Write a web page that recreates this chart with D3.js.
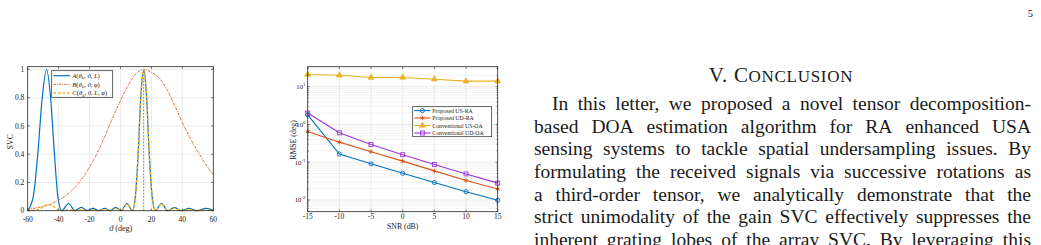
<!DOCTYPE html>
<html><head><meta charset="utf-8">
<script src="https://cdn.jsdelivr.net/npm/d3@7"></script>
<style>
body{margin:0;background:#fff}
svg{display:block}
text{font-family:"Liberation Serif","Times New Roman",serif;fill:#1a1a1a}
</style>
</head><body>
<svg id="c" width="1041" height="245"></svg>
<script>
// ---------------- data: left chart (SVC vs angle) ----------------
const svcXTicks = [-60,-40,-20,0,20,40,60];
const svcYTicks = [0,0.2,0.4,0.6,0.8,1];
const svcYTickLabels = ["0","0.2","0.4","0.6","0.8","1"];
const svcADeg = [-60,-56.4,-53.5,-50.6,-47.8,-45.2,-42.7,-40.5,-38,-33.6,-29.4,-25.4,-21.5,-17.7,-13.9,-10.3,-6.7,-3.1,0.5,4.1,7.7,9.6,11.4,13.1,15,16.9,18.6,20.5,22.6,26.5,30.6,34.9,39.3,44.2,49.4,55.3,60];
const svcAVal = [0,0.1,0.4,0.8,1,0.8,0.4,0.1,0,0.051,0,0.023,0,0.016,0,0.016,0,0.023,0,0.051,0,0.1,0.4,0.8,1,0.8,0.4,0.1,0,0.051,0,0.023,0,0.016,0,0.016,0.003];
const svcBDeg = [-60,-55,-50,-45,-40,-35,-30,-25,-20,-15,-10,-5,0,5,10,15,20,25,30,35,40,45,50,55,60];
const svcBVal = [0.012,0.019,0.03,0.048,0.075,0.11,0.16,0.225,0.31,0.41,0.53,0.66,0.78,0.89,0.97,1.0,0.98,0.94,0.86,0.745,0.625,0.515,0.42,0.33,0.255];
const svcCDeg = [-60,-56.4,-53.5,-50.6,-47.8,-45.2,-42.7,-40.5,-38,-33.6,-29.4,-25.4,-21.5,-17.7,-13.9,-10.3,-6.7,-3.1,0.5,4.1,7.7,9.6,11.4,13.1,15,16.9,18.6,20.5,22.6,26.5,30.6,34.9,39.3,44.2,49.4,55.3,60];
const svcCVal = [0,0.002,0.008,0.022,0.04,0.04,0.026,0.008,0,0.005,0,0.005,0,0.006,0,0.009,0,0.016,0,0.046,0,0.097,0.39,0.79,1,0.8,0.39,0.098,0,0.047,0,0.018,0,0.009,0,0.006,0.001];
const svcMarkerDeg = 15;
const svcLegend = ["A","B","C"];

// ---------------- data: right chart (RMSE vs SNR) ----------------
const snr = [-15,-10,-5,0,5,10,15];
const rmseUSRA = [1.8,0.165,0.091,0.051,0.029,0.0166,0.0098];
const rmseUDRA = [0.65,0.34,0.19,0.107,0.059,0.033,0.0195];
const rmseUSOA = [21,20,17.5,17.5,15.8,14,14];
const rmseUDOA = [2.0,0.6,0.295,0.158,0.087,0.049,0.028];
const rmseNames = ["Proposed US-RA","Proposed UD-RA","Conventional US-OA","Conventional UD-OA"];
const snrTicks = [-15,-10,-5,0,5,10,15];
const rmseDecades = [-2,-1,0,1];

// ---------------- text ----------------
const headingMain = "V. C";
const headingSmall = "ONCLUSION";
const paraLines = [
 "In this letter, we proposed a novel tensor decomposition-",
 "based DOA estimation algorithm for RA enhanced USA",
 "sensing systems to tackle spatial undersampling issues. By",
 "formulating the received signals via successive rotations as",
 "a third-order tensor, we analytically demonstrate that the",
 "strict unimodality of the gain SVC effectively suppresses the",
 "inherent grating lobes of the array SVC. By leveraging this"
];

const svg = d3.select("#c");
const axisCol = "#262626", gridCol = "#e3e3e3";
const cBlue="#0072BD", cOrange="#D95319", cYellow="#EDB120", cPurple="#9B35D8";

// ================= LEFT CHART =================
(function(){
  const xs = d3.scaleLinear().domain([-60,60]).range([27.7,213.3]);
  const ys = d3.scaleLinear().domain([0,1.02]).range([210.7,66.7]);
  const g = svg.append("g");
  const [x0,x1] = xs.range(), [yb,yt] = ys.range();
  g.selectAll(".vg").data(svcXTicks.slice(1,-1)).join("line")
    .attr("x1",d=>xs(d)).attr("x2",d=>xs(d)).attr("y1",yb).attr("y2",yt)
    .attr("stroke",gridCol).attr("stroke-width",0.7);
  g.selectAll(".hg").data(svcYTicks.slice(1)).join("line")
    .attr("x1",x0).attr("x2",x1).attr("y1",d=>ys(d)).attr("y2",d=>ys(d))
    .attr("stroke",gridCol).attr("stroke-width",0.7);
  const line = d3.line().curve(d3.curveMonotoneX);
  const ptsA = svcADeg.map((d,i)=>[xs(d),ys(svcAVal[i])]);
  const ptsB = svcBDeg.map((d,i)=>[xs(d),ys(svcBVal[i])]);
  const ptsC = svcCDeg.map((d,i)=>[xs(d),ys(svcCVal[i])]);
  g.append("path").attr("d",line(ptsA)).attr("fill","none").attr("stroke",cBlue).attr("stroke-width",1.2);
  g.append("path").attr("d",line(ptsB)).attr("fill","none").attr("stroke",cOrange).attr("stroke-width",0.9).attr("stroke-dasharray","2.5,1,0.8,1");
  g.append("path").attr("d",line(ptsC)).attr("fill","none").attr("stroke",cYellow).attr("stroke-width",1.5).attr("stroke-dasharray","2.5,2");
  g.append("line").attr("x1",xs(svcMarkerDeg)).attr("x2",xs(svcMarkerDeg)).attr("y1",ys(0)).attr("y2",ys(1))
    .attr("stroke","#8a8a8a").attr("stroke-width",1).attr("stroke-dasharray","2,1.2");
  g.append("rect").attr("x",x0).attr("y",yt).attr("width",x1-x0).attr("height",yb-yt)
    .attr("fill","none").attr("stroke",axisCol).attr("stroke-width",0.8);
  svcXTicks.forEach(t=>{
    g.append("line").attr("x1",xs(t)).attr("x2",xs(t)).attr("y1",yb).attr("y2",yb-2.2).attr("stroke",axisCol).attr("stroke-width",0.6);
    g.append("line").attr("x1",xs(t)).attr("x2",xs(t)).attr("y1",yt).attr("y2",yt+2.2).attr("stroke",axisCol).attr("stroke-width",0.6);
    g.append("text").attr("x",xs(t)).attr("y",221.5).attr("text-anchor","middle").attr("font-size",7.5).text(t);
  });
  svcYTicks.forEach((t,i)=>{
    g.append("line").attr("x1",x0).attr("x2",x0+2.2).attr("y1",ys(t)).attr("y2",ys(t)).attr("stroke",axisCol).attr("stroke-width",0.6);
    g.append("line").attr("x1",x1).attr("x2",x1-2.2).attr("y1",ys(t)).attr("y2",ys(t)).attr("stroke",axisCol).attr("stroke-width",0.6);
    g.append("text").attr("x",24.3).attr("y",ys(t)+2.6).attr("text-anchor","end").attr("font-size",7.5).text(svcYTickLabels[i]);
  });
  g.append("text").attr("transform","translate(12.5,141.7) rotate(-90)").attr("text-anchor","middle").attr("font-size",8).text("SVC");
  const xl = g.append("text").attr("x",120.7).attr("y",231).attr("text-anchor","middle").attr("font-size",8);
  xl.append("tspan").attr("font-style","italic").text("ϑ");
  xl.append("tspan").text(" (deg)");
  const lg = g.append("g");
  lg.append("rect").attr("x",51.7).attr("y",70.7).attr("width",61).attr("height",26.6)
    .attr("fill","#fff").attr("stroke",axisCol).attr("stroke-width",0.7);
  const rowsY = [75.7,84.3,93];
  const styles = [[cBlue,1.2,null],[cOrange,0.9,"2.5,1,0.8,1"],[cYellow,1.5,"2.5,2"]];
  const extras = [[", ϑ, ","L",")"],[", ϑ, ","φ",")"],[", ϑ, ","L",", ","φ",")"]];
  svcLegend.forEach((nm,i)=>{
    const s = styles[i];
    const l = lg.append("line").attr("x1",53.5).attr("x2",70).attr("y1",rowsY[i]).attr("y2",rowsY[i])
      .attr("stroke",s[0]).attr("stroke-width",s[1]);
    if(s[2]) l.attr("stroke-dasharray",s[2]);
    const t = lg.append("text").attr("x",72.3).attr("y",rowsY[i]+2.2).attr("font-size",6.6);
    t.append("tspan").attr("font-style","italic").text(nm);
    t.append("tspan").text("(");
    t.append("tspan").attr("font-style","italic").text("θ");
    t.append("tspan").attr("font-size",4.6).attr("dy",1.3).text("k");
    const parts = extras[i];
    t.append("tspan").attr("dy",-1.3).text(parts[0]);
    for(let k=1;k<parts.length;k++){
      const tp = t.append("tspan").text(parts[k]);
      if(parts[k]==="L"||parts[k]==="φ") tp.attr("font-style","italic");
    }
  });
})();

// ================= RIGHT CHART =================
(function(){
  const xs = d3.scaleLinear().domain([-15,15]).range([307.7,497.7]);
  const ys = d3.scaleLog().domain([0.0049,33.8]).range([211.7,66.7]);
  const g = svg.append("g");
  const [x0,x1] = xs.range(), [yb,yt] = ys.range();
  const minors = [];
  for(let e=-3;e<=1;e++) for(let m=2;m<=9;m++){const v=m*Math.pow(10,e); if(v>0.0049&&v<33.8) minors.push(v);}
  g.selectAll(".mg").data(minors).join("line")
    .attr("x1",x0).attr("x2",x1).attr("y1",d=>ys(d)).attr("y2",d=>ys(d))
    .attr("stroke","#cfcfcf").attr("stroke-width",0.6).attr("stroke-dasharray","0.8,1.2");
  g.selectAll(".vg").data(snrTicks.slice(1,-1)).join("line")
    .attr("x1",d=>xs(d)).attr("x2",d=>xs(d)).attr("y1",yb).attr("y2",yt)
    .attr("stroke",gridCol).attr("stroke-width",0.7);
  g.selectAll(".hg").data(rmseDecades).join("line")
    .attr("x1",x0).attr("x2",x1).attr("y1",d=>ys(Math.pow(10,d))).attr("y2",d=>ys(Math.pow(10,d)))
    .attr("stroke",gridCol).attr("stroke-width",0.7);
  const series = [
    {v:rmseUSRA,c:cBlue,m:"circle"},
    {v:rmseUDRA,c:cOrange,m:"star"},
    {v:rmseUSOA,c:cYellow,m:"tri"},
    {v:rmseUDOA,c:cPurple,m:"square"}
  ];
  const line = d3.line();
  function marker(sel,m,c,x,y){
    if(m==="circle") sel.append("circle").attr("cx",x).attr("cy",y).attr("r",2.1).attr("fill","none").attr("stroke",c).attr("stroke-width",0.9);
    else if(m==="square") sel.append("rect").attr("x",x-2).attr("y",y-2).attr("width",4).attr("height",4).attr("fill","none").attr("stroke",c).attr("stroke-width",0.9);
    else if(m==="tri") sel.append("path").attr("d",d3.symbol(d3.symbolTriangle,16)()).attr("transform",`translate(${x},${y})`).attr("fill",c).attr("stroke",c).attr("stroke-width",0.6);
    else sel.append("path").attr("d",d3.symbol(d3.symbolAsterisk,14)()).attr("transform",`translate(${x},${y})`).attr("fill","none").attr("stroke",c).attr("stroke-width",0.9);
  }
  series.forEach(s=>{
    const pts = snr.map((d,i)=>[xs(d),ys(s.v[i])]);
    g.append("path").attr("d",line(pts)).attr("fill","none").attr("stroke",s.c).attr("stroke-width",1.1);
    pts.forEach(p=>marker(g,s.m,s.c,p[0],p[1]));
  });
  g.append("rect").attr("x",x0).attr("y",yt).attr("width",x1-x0).attr("height",yb-yt)
    .attr("fill","none").attr("stroke",axisCol).attr("stroke-width",0.8);
  snrTicks.forEach(t=>{
    g.append("line").attr("x1",xs(t)).attr("x2",xs(t)).attr("y1",yb).attr("y2",yb-2.2).attr("stroke",axisCol).attr("stroke-width",0.6);
    g.append("line").attr("x1",xs(t)).attr("x2",xs(t)).attr("y1",yt).attr("y2",yt+2.2).attr("stroke",axisCol).attr("stroke-width",0.6);
    g.append("text").attr("x",xs(t)).attr("y",219.2).attr("text-anchor","middle").attr("font-size",7.5).text(t);
  });
  minors.forEach(v=>{
    g.append("line").attr("x1",x0).attr("x2",x0+1.2).attr("y1",ys(v)).attr("y2",ys(v)).attr("stroke",axisCol).attr("stroke-width",0.5);
    g.append("line").attr("x1",x1).attr("x2",x1-1.2).attr("y1",ys(v)).attr("y2",ys(v)).attr("stroke",axisCol).attr("stroke-width",0.5);
  });
  rmseDecades.forEach(e=>{
    const y = ys(Math.pow(10,e));
    g.append("line").attr("x1",x0).attr("x2",x0+2.2).attr("y1",y).attr("y2",y).attr("stroke",axisCol).attr("stroke-width",0.6);
    g.append("line").attr("x1",x1).attr("x2",x1-2.2).attr("y1",y).attr("y2",y).attr("stroke",axisCol).attr("stroke-width",0.6);
    const t = g.append("text").attr("x",305.5).attr("y",y+2.4).attr("text-anchor","end").attr("font-size",6.8);
    t.append("tspan").text("10");
    t.append("tspan").attr("font-size",4.8).attr("dy",-3).text(e);
  });
  g.append("text").attr("transform","translate(295.5,140) rotate(-90)").attr("text-anchor","middle").attr("font-size",7.8).text("RMSE (deg)");
  g.append("text").attr("x",402.7).attr("y",228.5).attr("text-anchor","middle").attr("font-size",7.8).text("SNR (dB)");
  const lg = g.append("g");
  lg.append("rect").attr("x",412.7).attr("y",106.7).attr("width",79).attr("height",30)
    .attr("fill","#fff").attr("stroke",axisCol).attr("stroke-width",0.7);
  const rowsY = [110.6,118,125.5,133];
  series.forEach((s,i)=>{
    lg.append("line").attr("x1",414.3).attr("x2",430.5).attr("y1",rowsY[i]).attr("y2",rowsY[i]).attr("stroke",s.c).attr("stroke-width",1.1);
    marker(lg,s.m,s.c,422.4,rowsY[i]);
    lg.append("text").attr("x",432.3).attr("y",rowsY[i]+2).attr("font-size",5.8).text(rmseNames[i]);
  });
})();

// ================= TEXT COLUMN =================
(function(){
  const g = svg.append("g");
  const h = g.append("text").attr("x",781).attr("y",81.5).attr("text-anchor","middle").attr("font-size",21).attr("letter-spacing",0.7);
  h.append("tspan").text(headingMain);
  h.append("tspan").attr("font-size",17).text(headingSmall);
  const leftX = 534, rightX = 1031, indentX = 552;
  paraLines.forEach((ln,i)=>{
    const words = ln.split(" ");
    const x0 = i===0 ? indentX : leftX;
    const y = 109.8 + i*22.7;
    const ts = words.map(w=>g.append("text").attr("y",y).attr("font-size",19.5).text(w));
    const ws = ts.map(t=>t.node().getComputedTextLength());
    const gap = (rightX - x0 - d3.sum(ws))/(words.length-1);
    let x = x0;
    ts.forEach((t,j)=>{ t.attr("x",x); x += ws[j]+gap; });
  });
  g.append("text").attr("x",1033).attr("y",17).attr("text-anchor","end").attr("font-size",10.5).text("5");
})();
</script>
</body></html>
